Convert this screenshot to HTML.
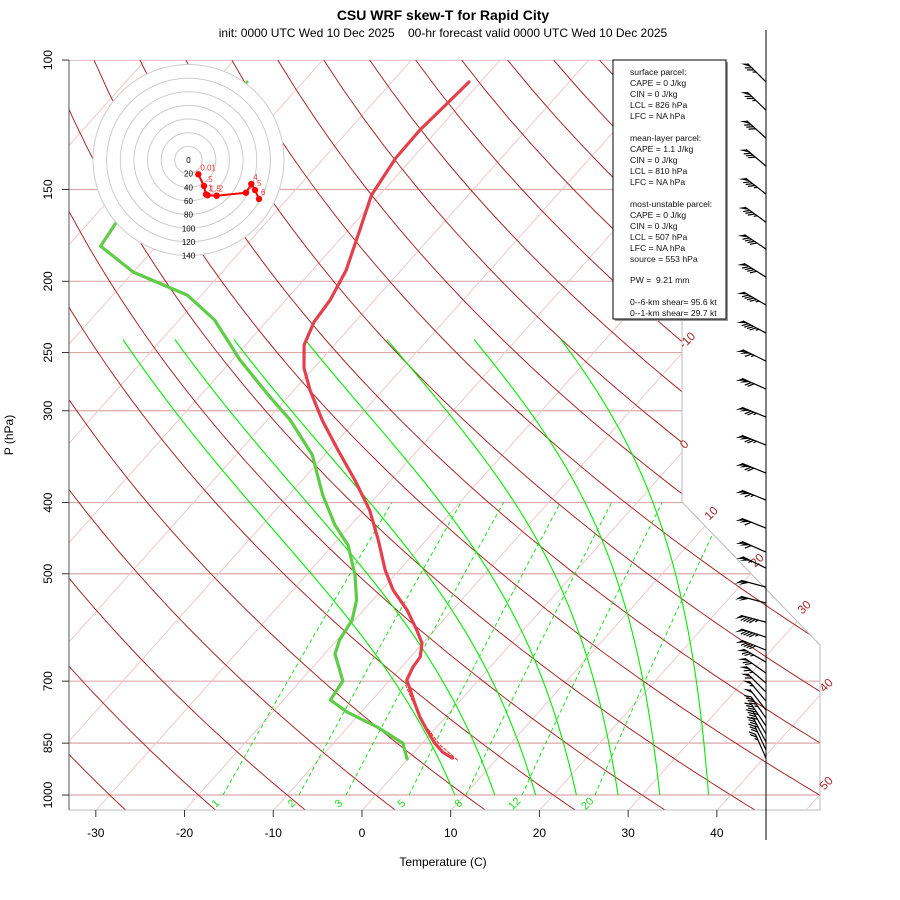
<!DOCTYPE html>
<html><head><meta charset="utf-8"><style>
html,body{margin:0;padding:0;background:#fff;}
svg{display:block;font-family:"Liberation Sans",sans-serif;}
</style></head><body>
<svg id="chart" width="900" height="900" viewBox="0 0 900 900" xmlns="http://www.w3.org/2000/svg">
<defs><clipPath id="plotclip"><polygon points="69,60 682,60 682,502 820,645 820,810 69,810"/></clipPath></defs>
<rect x="0" y="0" width="900" height="900" fill="#fff"/>
<text x="443" y="20" text-anchor="middle" font-size="14" font-weight="bold">CSU WRF skew-T for Rapid City</text>
<text x="443" y="37" text-anchor="middle" font-size="12" style="white-space:pre">init: 0000 UTC Wed 10 Dec 2025    00-hr forecast valid 0000 UTC Wed 10 Dec 2025</text>
<g id="bg" clip-path="url(#plotclip)"></g>
<g id="frame"></g>
<g id="profiles"></g>
<g id="hodo"></g>
<g id="winds"></g>
<g id="axes"></g>
</svg>
<script>
// ---- data ----
const tempP = [107.1,114.8,124.5,135.9,152.7,170.3,193.1,212.1,227.3,244.2,262.4,281.2,308.9,339.4,372.7,409.5,449.9,494.2,526.1,560.2,596.4,621.2,649.0,669.7,697.4,719.6,749.5,783.1,815.6,849.8,874.1,890.7];
const tempT = [-61.3,-61.6,-62.0,-61.9,-60.9,-58.7,-56.2,-55.0,-54.6,-53.4,-51.1,-48.2,-43.8,-39.0,-34.1,-29.4,-25.4,-21.6,-18.7,-15.1,-12.0,-10.1,-8.9,-8.7,-8.1,-6.7,-4.9,-2.9,-0.8,1.4,3.2,4.9];
const dewP = [166.7,179.1,194.3,208.8,225.8,256.0,285.6,308.9,344.6,390.7,429.2,457.0,502.0,542.9,578.0,615.4,642.9,699.6,742.5,771.1,808.0,849.8,893.4];
const dewT = [-86.9,-86.3,-80.0,-71.6,-66.0,-59.1,-52.4,-47.4,-41.4,-36.2,-31.8,-28.3,-24.5,-21.8,-20.3,-19.7,-18.8,-15.2,-14.7,-11.6,-6.7,-2.2,-0.1];
const parcelP = [896.5,855.1,803.0,742.5,708.7];
const parcelT = [5.7,2.2,-1.5,-5.5,-7.7];
const windP = [107.1,117.0,127.7,139.4,152.2,166.2,180.8,197.4,215.4,235.2,256.8,280.3,306.0,334.1,364.7,396.9,433.4,467.2,491.2,521.3,548.1,581.8,609.8,635.1,659.4,682.5,704.2,724.4,745.1,766.3,785.8,805.6,826.0,847.0,868.5,890.6];
const windSpd = [75,75,80,80,85,85,90,90,95,95,115,120,125,125,120,115,110,110,105,100,100,95,95,90,75,70,65,60,55,50,45,45,40,35,30,25];
const windDir = [315,314,312,310,308,306,304,302,300,298,296,294,292,292,292,292,292,294,296,285,285,285,288,292,300,305,310,315,320,322,325,326,330,332,335,336];
const hodoLabels = ["0.01",".5","1","1.5","2","3","4","5","6"];
const hodoU = [14.4,22.7,25.6,28.1,41.3,84.2,92.0,97.4,103.3];
const hodoV = [-21.0,-38.1,-50.3,-51.7,-52.3,-47.9,-35.2,-44.0,-57.1];
const pTicks = [100,150,200,250,300,400,500,700,850,1000];
const tTicks = [-30,-20,-10,0,10,20,30,40];
const isoLabels = ["-10","0","10","20","30","40","50"];
const mixRatios = [1,2,3,5,8,12,20];
const mixBottomX = [223,299,346,409,466,522,595];
const satStarts = [8.9,13.4,18,22.6,27.3,32,37.5];
const satTopX = [123,175,234,305,387,474,561];
const hodoRings = [20,40,60,80,100,120,140];

// ---- axis functions ----
const NS="http://www.w3.org/2000/svg";
function Yc(p){return 132.182-44.061*Math.log10(p);}
function py(p){return 795-16.68*Yc(p);}
function px(T,p){return 375.9+16.43*(0.54*T+0.90692*Yc(p));}
function mk(tag,attrs,parent){const e=document.createElementNS(NS,tag);for(const k in attrs)e.setAttribute(k,attrs[k]);parent.appendChild(e);return e;}
function pathFrom(pts){return pts.map((q,i)=>(i?'L':'M')+q[0].toFixed(1)+','+q[1].toFixed(1)).join(' ');}
const bg=document.getElementById('bg');

pTicks.forEach(p=>{
  const l=mk('line',{x1:69,x2:820,y1:py(p),y2:py(p),stroke:'#dba8a8','stroke-width':1.2},bg);
  
  
});
for(let T=-130;T<=50;T+=10){
  const l=mk('line',{x1:px(T,1050),y1:py(1050),x2:px(T,100),y2:py(100),stroke:'#f0c8c8','stroke-width':1},bg);
  
  
}
for(let th=-40;th<=220;th+=10){
  const pts=[];
  for(let p=1050;p>=100;p-=10){const T=(th+273.15)*Math.pow(p/1000,0.2857)-273.15;pts.push([px(T,p),py(p)]);}
  const e=mk('path',{d:pathFrom(pts),fill:'none',stroke:'#a52a2a','stroke-width':1},bg);
  
  
}
function tdFromW(w,p){const e=w*p/(622+w);const a=Math.log(e/6.112);return 243.5*a/(17.67-a);}
mixRatios.forEach((w,i)=>{
  const off=mixBottomX[i]-px(tdFromW(w,1000),1000);
  const pts=[];
  for(let p=1000;p>=400;p-=10)pts.push([px(tdFromW(w,p),p)+off,py(p)]);
  const e=mk('path',{d:pathFrom(pts),fill:'none',stroke:'#22dd22','stroke-width':1,'stroke-dasharray':'4,3'},bg);
  
  
});
function satPath(T0,k){
  const Rd=287.04,cp=1005.7,Lv=2.501e6,eps=0.622;
  let T=T0+273.15;const pts=[[px(T0,1000),py(1000)]];
  for(let p=1000;p>240;p-=2){
    const tc=T-273.15;const es=6.112*Math.exp(17.67*tc/(tc+243.5));const rs=k*eps*es/(p-es);
    const dTdp=(Rd*T+Lv*rs)/(p*(cp+Lv*Lv*rs*eps/(Rd*T*T)));
    T-=dTdp*2;pts.push([px(T-273.15,p-2),py(p-2)]);
  }
  return pts;
}
satStarts.forEach((t0,i)=>{
  let lo=0,hi=1.5;
  for(let it=0;it<30;it++){const m=(lo+hi)/2;const pts=satPath(t0,m);if(pts[pts.length-1][0]<satTopX[i])lo=m;else hi=m;}
  const e=mk('path',{d:pathFrom(satPath(t0,(lo+hi)/2)),fill:'none',stroke:'#00ee00','stroke-width':1.1},bg);
  
  
});

const fr=document.getElementById('frame');
const fp=mk('polyline',{points:'682,60 682,502 820,645 820,810 69,810',fill:'none',stroke:'#bbb','stroke-width':1},fr);


const isoPos=[[690,343],[687,447],[714,516],[760,563],[807,610],[829,688],[829,786]];
isoLabels.forEach((s,i)=>{
  const t=mk('text',{x:isoPos[i][0],y:isoPos[i][1],fill:'#a52a2a','font-size':12,'text-anchor':'middle',transform:`rotate(-45 ${isoPos[i][0]} ${isoPos[i][1]})`},fr);
  t.textContent=s;
  
  
});
mixRatios.forEach((w,i)=>{
  const x=mixBottomX[i]-5,y=806;
  const t=mk('text',{x:x,y:y,fill:'#22dd22','font-size':11,'text-anchor':'middle',transform:`rotate(-45 ${x} ${y})`},fr);
  t.textContent=String(w);
  
  
});

const pr=document.getElementById('profiles');
function profile(P,T,attrs,name){
  const pts=P.map((p,i)=>[px(T[i],p),py(p)]);
  const e=mk('path',Object.assign({d:pathFrom(pts),fill:'none','stroke-linejoin':'round','stroke-linecap':'round'},attrs),pr);
  
  
}
profile(parcelP,parcelT,{stroke:'#ff2020','stroke-width':1,'stroke-dasharray':'3,2'},'parcel-line');
profile(tempP,tempT,{stroke:'#e2404d','stroke-width':3.2},'temperature-line');
profile(dewP,dewT,{stroke:'#5fcc47','stroke-width':3.2},'dewpoint-line');

const hg=document.getElementById('hodo');
const hcx=188.5,hcy=160,hs=13.65/20;
const disc=mk('circle',{cx:hcx,cy:hcy,r:96,fill:'#fff',stroke:'none'},hg);


hodoRings.forEach(r=>{
  const c=mk('circle',{cx:hcx,cy:hcy,r:r*hs,fill:'none',stroke:'#cccccc','stroke-width':1},hg);
  
  
});
[0].concat(hodoRings).forEach(r=>{
  const t=mk('text',{x:hcx,y:hcy+r*hs+3,'font-size':8,'text-anchor':'middle',fill:'#000'},hg);
  t.textContent=String(r);
  
  
});
const hpts=hodoU.map((u,i)=>[hcx+u*hs,hcy-hodoV[i]*hs]);
const hl=mk('path',{d:pathFrom(hpts),fill:'none',stroke:'#ff0000','stroke-width':2},hg);


hpts.forEach((q,i)=>{
  const c=mk('circle',{cx:q[0],cy:q[1],r:3.2,fill:'#ff0000'},hg);
  
  
  const t=mk('text',{x:q[0]+2,y:q[1]-4,'font-size':8,fill:'#ff3333'},hg);
  t.textContent=hodoLabels[i];
  
  
});
const gd=mk('circle',{cx:247,cy:82,r:1.5,fill:'#5fcc47'},hg);



// wind barbs
const wg=document.getElementById('winds');
const wax=mk('line',{x1:766,x2:766,y1:30,y2:840,stroke:'#000','stroke-width':1},wg);


windP.forEach((p,i)=>{
  const g=mk('g',{},wg);
  
  
  const bx=766,by=py(p),d=windDir[i]*Math.PI/180,L=26;
  const ux=Math.sin(d),uy=-Math.cos(d);
  const px_=uy,py_=-ux;
  const tx=(px_+ux)/Math.SQRT2,ty=(py_+uy)/Math.SQRT2;
  const ex=bx+ux*L,ey=by+uy*L;
  mk('line',{x1:bx,y1:by,x2:ex,y2:ey,stroke:'#000','stroke-width':1.2},g);
  let s=windSpd[i],pos=0;
  while(s>=47.5){
    const a=[ex-ux*pos,ey-uy*pos],b=[ex-ux*(pos+5),ey-uy*(pos+5)];
    mk('polygon',{points:`${a[0]},${a[1]} ${b[0]},${b[1]} ${a[0]+tx*7},${a[1]+ty*7}`,fill:'#000'},g);
    pos+=4;s-=50;
  }
  if(pos>0)pos+=2;
  while(s>=7.5){
    const a=[ex-ux*pos,ey-uy*pos];
    mk('line',{x1:a[0],y1:a[1],x2:a[0]+tx*7,y2:a[1]+ty*7,stroke:'#000','stroke-width':1.2},g);
    pos+=3;s-=10;
  }
  if(s>=2.5){
    const a=[ex-ux*pos,ey-uy*pos];
    mk('line',{x1:a[0],y1:a[1],x2:a[0]+tx*3.5,y2:a[1]+ty*3.5,stroke:'#000','stroke-width':1.2},g);
  }
});

const ax=document.getElementById('axes');
const la=mk('line',{x1:69,x2:69,y1:60,y2:810,stroke:'#555','stroke-width':1},ax);


pTicks.forEach(p=>{
  const y=py(p);
  const tk=mk('line',{x1:62,x2:69,y1:y,y2:y,stroke:'#333'},ax);
  
  
  const t=mk('text',{x:52,y:y,'font-size':12,'text-anchor':'middle',transform:`rotate(-90 52 ${y})`},ax);
  t.textContent=String(p);
  
  
});
tTicks.forEach(T=>{
  const x=px(T,1050);
  const tk=mk('line',{x1:x,x2:x,y1:810,y2:817,stroke:'#333'},ax);
  
  
  const t=mk('text',{x:x,y:837,'font-size':12,'text-anchor':'middle'},ax);
  t.textContent=String(T);
  
  
});
const xt=mk('text',{x:443,y:866,'font-size':12,'text-anchor':'middle'},ax);
xt.textContent='Temperature (C)';


const yt=mk('text',{x:13,y:435,'font-size':12,'text-anchor':'middle',transform:'rotate(-90 13 435)'},ax);
yt.textContent='P (hPa)';



const box=mk('g',{},ax);


mk('rect',{x:615,y:62,width:113,height:259,fill:'#999'},box);
mk('rect',{x:613,y:60,width:113,height:259,fill:'#fff',stroke:'#000','stroke-width':1},box);
const lines=[["surface parcel:",72],["CAPE = 0 J/kg",83],["CIN = 0 J/kg",94],["LCL = 826 hPa",105],["LFC = NA hPa",116],
["mean-layer parcel:",138],["CAPE = 1.1 J/kg",149],["CIN = 0 J/kg",160],["LCL = 810 hPa",171],["LFC = NA hPa",182],
["most-unstable parcel:",204],["CAPE = 0 J/kg",215],["CIN = 0 J/kg",226],["LCL = 507 hPa",237],["LFC = NA hPa",248],["source = 553 hPa",259],
["PW =  9.21 mm",280],["0--6-km shear= 95.6 kt",302],["0--1-km shear= 29.7 kt",313]];
lines.forEach(l=>{
  const t=mk('text',{x:630,y:l[1]+3,'font-size':8.6,fill:'#111',style:'white-space:pre'},box);
  t.textContent=l[0];
  
  
});
</script>
</body></html>
